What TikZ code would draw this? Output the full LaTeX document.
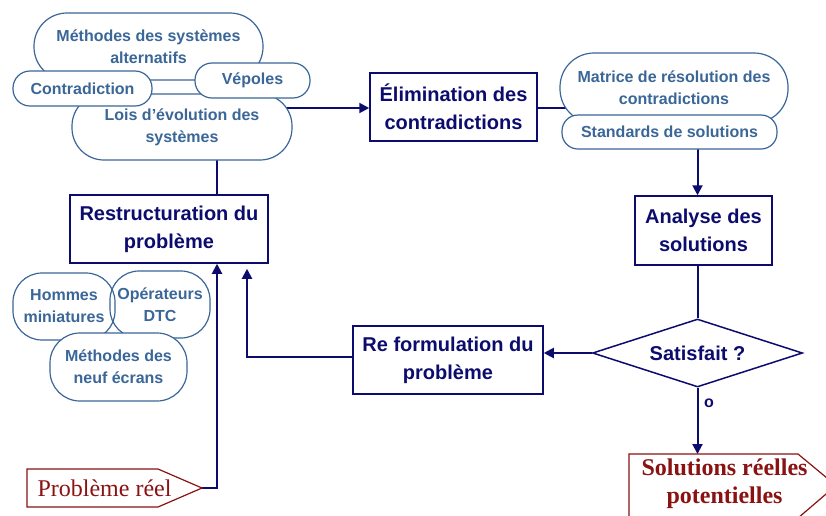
\documentclass[tikz,border=0pt]{standalone}
\usepackage{fontspec}
\setmainfont{Liberation Sans}
\newfontfamily\serifrm{Liberation Serif}
\usetikzlibrary{shapes.geometric,arrows.meta,calc}
\pgfdeclarelayer{bg}
\pgfsetlayers{bg,main}
\definecolor{dnavy}{RGB}{12,12,110}
\definecolor{steel}{RGB}{58,102,152}
\definecolor{dred}{RGB}{138,18,18}

\tikzset{
  stepbox/.style={draw=dnavy, line width=1.5pt, fill=white, text=dnavy,
    font=\bfseries\fontsize{20}{28}\selectfont, align=center, inner sep=0pt},
  capsule/.style={draw=steel, line width=1.2pt, fill=white, text=steel,
    font=\bfseries\fontsize{16}{22}\selectfont, align=center, inner sep=0pt},
  conn/.style={draw=dnavy, line width=2pt},
  arr/.style={conn, -{Triangle[length=10pt,width=10pt]}},
  flag/.style={draw=dred, line width=1.2pt, fill=white},
}

\begin{document}
\begin{tikzpicture}[x=1pt,y=-1pt]
\useasboundingbox (0,0) rectangle (826,515);
\clip (0,0) rectangle (826,515);

% --- main process boxes
\node[stepbox, minimum width=167pt, minimum height=68pt] (elim) at (453.5,107)
  {Élimination des\\contradictions};
\node[stepbox, minimum width=198pt, minimum height=68pt] (restr) at (169,229)
  {Restructuration du\\problème};
\node[stepbox, minimum width=137pt, minimum height=69pt] (analyse) at (703.5,230.5)
  {Analyse des\\solutions};
\node[stepbox, minimum width=190pt, minimum height=68pt] (reform) at (448,360)
  {Re formulation du\\problème};
\node[stepbox, shape=diamond, aspect=3.1, minimum width=210pt, minimum height=68pt]
  (diam) at (697.5,353) {Satisfait ?};

% --- tool capsules, top left
\node[capsule, minimum width=229pt, minimum height=67pt, rounded corners=33pt]
  (meth) at (148.5,46.5) {Méthodes des systèmes\\alternatifs};
\node[capsule, minimum width=220pt, minimum height=66pt, rounded corners=32pt]
  (lois) at (182,127) {Lois d’évolution des\\systèmes};
\node[capsule, minimum width=139pt, minimum height=35pt, rounded corners=17pt]
  (contra) at (82.5,88.5) {Contradiction};
\node[capsule, minimum width=115pt, minimum height=35pt, rounded corners=17pt]
  (vep) at (252.5,80.5) {Vépoles};

% --- tool capsules, top right
\node[capsule, minimum width=228pt, minimum height=70pt, rounded corners=34pt]
  (matrice) at (674,88) {Matrice de résolution des\\contradictions};
\node[capsule, minimum width=215pt, minimum height=34pt, rounded corners=16pt]
  (standards) at (669.5,132) {Standards de solutions};

% --- tool capsules, bottom left
\node[capsule, fill=none, minimum width=102pt, minimum height=67pt, rounded corners=29pt]
  (hommes) at (64,306.5) {Hommes\\miniatures};
\node[capsule, fill=none, minimum width=100pt, minimum height=67pt, rounded corners=29pt]
  (operateurs) at (160,304.5) {Opérateurs\\DTC};
\node[capsule, minimum width=137pt, minimum height=68pt, rounded corners=30pt]
  (neuf) at (118.5,367) {Méthodes des\\neuf écrans};

% --- start and end flags
\coordinate (probtip) at (202,488);
\draw[flag] (27,469) -- (158,469) -- (probtip) -- (158,507) -- (27,507) -- cycle;
\node[text=dred, font=\serifrm\fontsize{24}{28}\selectfont, inner sep=0pt]
  (prob) at (104.5,488) {Problème réel};

\coordinate (soltop) at (697.5,454);
\draw[flag] (629,454) -- (798,454) -- (836,485.5) -- (798,518) -- (629,518) -- cycle;
\node[text=dred, font=\serifrm\bfseries\fontsize{24}{28}\selectfont, align=center,
  inner sep=0pt] (sol) at (724.5,484) {Solutions réelles\\potentielles};

\node[text=dnavy, font=\bfseries\fontsize{16}{20}\selectfont, inner sep=0pt]
  (olab) at (709,403) {o};

% --- junction points on the restructuring box
\coordinate (rtop) at ([xshift=48pt]restr.north);
\coordinate (rbot) at ([xshift=48pt]restr.south);
\coordinate (rback) at ([xshift=78pt,yshift=-5pt]restr.south);

% --- connectors (behind the shapes)
\begin{pgfonlayer}{bg}
  \draw[arr] (lois.center |- 0,108) -- (elim.west |- 0,108);
  \draw[conn] (elim.east |- 0,108) -- (matrice.center |- 0,108);
  \draw[arr] (standards.center -| diam.north) -- (diam.north |- analyse.north);
  \draw[conn] (analyse.south -| diam.north) -- (diam.north);
  \draw[arr] (diam.west) -- (diam.west -| reform.east);
  \draw[arr] ([yshift=3pt]reform.west) -| (rback);
  \draw[arr] (probtip) -| (rbot);
  \draw[conn] (lois.center -| rtop) -- (rtop);
  \draw[arr] (diam.south) -- (soltop);
\end{pgfonlayer}
\end{tikzpicture}
\end{document}
